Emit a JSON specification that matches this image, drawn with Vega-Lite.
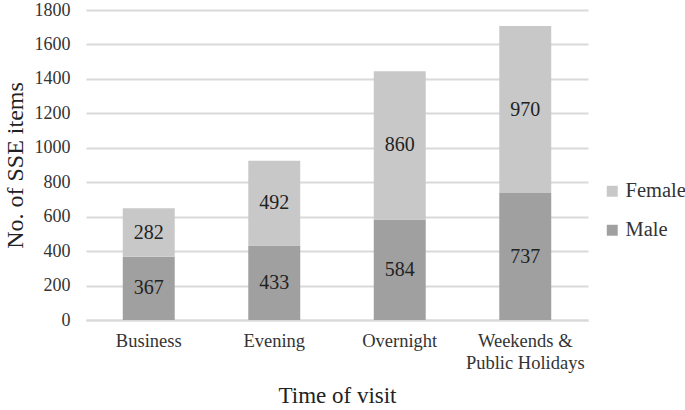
{
  "$schema": "https://vega.github.io/schema/vega-lite/v6.json",
  "width": 502,
  "height": 310,
  "autosize": "none",
  "padding": {"left": 86, "top": 10, "right": 97, "bottom": 90},
  "background": "white",
  "config": {
    "font": "Liberation Serif",
    "view": {"stroke": null},
    "axis": {"labelFont": "Liberation Serif", "titleFont": "Liberation Serif"},
    "legend": {"labelFont": "Liberation Serif"},
    "text": {"font": "Liberation Serif"},
    "axisY": {
      "titleFontSize": 24, "titleFontWeight": "normal", "titleColor": "#222", "titlePadding": 7,
      "values": [0, 200, 400, 600, 800, 1000, 1200, 1400, 1600, 1800],
      "format": "d", "labelOverlap": false,
      "labelFont": "Liberation Serif",
      "labelFontSize": 18, "labelColor": "#333", "labelPadding": 16,
      "ticks": false, "domain": false, "grid": true, "gridColor": "#d9d9d9", "gridWidth": 2
    },
    "axisX": {
      "titleFontSize": 23, "titleFontWeight": "normal", "titleColor": "#222", "titlePadding": 13,
      "labelFont": "Liberation Serif",
      "labelAngle": 0, "labelFontSize": 18.5, "labelColor": "#333", "labelPadding": 11, "labelLineHeight": 22,
      "ticks": false, "domainColor": "#d9d9d9", "domainWidth": 2
    }
  },
  "data": {
    "values": [
      {"time": "Business", "gender": "Male", "count": 367},
      {"time": "Business", "gender": "Female", "count": 282},
      {"time": "Evening", "gender": "Male", "count": 433},
      {"time": "Evening", "gender": "Female", "count": 492},
      {"time": "Overnight", "gender": "Male", "count": 584},
      {"time": "Overnight", "gender": "Female", "count": 860},
      {"time": "Weekends & Public Holidays", "gender": "Male", "count": 737},
      {"time": "Weekends & Public Holidays", "gender": "Female", "count": 970}
    ]
  },
  "transform": [
    {"stack": "count", "groupby": ["time"], "sort": [{"field": "gender", "order": "descending"}], "as": ["y0", "y1"]},
    {"calculate": "(datum.y0 + datum.y1) / 2", "as": "ymid"}
  ],
  "encoding": {
    "x": {
      "field": "time", "type": "nominal", "sort": null,
      "scale": {"paddingInner": 0.586, "paddingOuter": 0.293},
      "axis": {
        "title": "Time of visit",
        "labelExpr": "datum.label == 'Weekends & Public Holidays' ? ['Weekends &', 'Public Holidays'] : datum.label"
      }
    }
  },
  "layer": [
    {
      "mark": {"type": "bar"},
      "encoding": {
        "y": {
          "field": "y1", "type": "quantitative",
          "scale": {"domain": [0, 1800]},
          "axis": {"title": "No. of SSE items"}
        },
        "y2": {"field": "y0"},
        "color": {
          "field": "gender", "type": "nominal",
          "scale": {"domain": ["Female", "Male"], "range": ["#c8c8c8", "#a0a0a0"]},
          "legend": {
            "title": null, "orient": "none", "legendX": 516, "legendY": 171,
            "labelFont": "Liberation Serif",
            "symbolType": "square", "symbolSize": 120, "labelFontSize": 20.5, "labelColor": "#333",
            "rowPadding": 18, "labelOffset": 3, "symbolStrokeWidth": 0
          }
        }
      }
    },
    {
      "mark": {"type": "text", "fontSize": 20, "color": "#222", "font": "Liberation Serif"},
      "encoding": {
        "y": {"field": "ymid", "type": "quantitative", "axis": {"title": "No. of SSE items"}},
        "text": {"field": "count", "type": "quantitative"}
      }
    }
  ]
}
